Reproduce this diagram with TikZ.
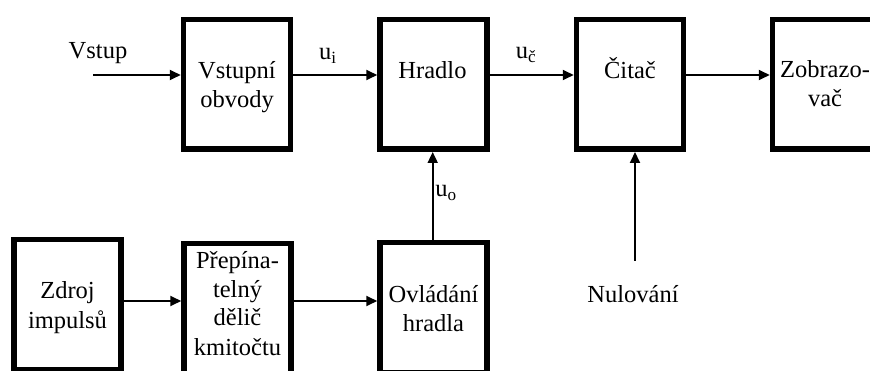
\documentclass[tikz,border=0pt]{standalone}
\usepackage{fontspec}
\setmainfont{Liberation Serif}
\usetikzlibrary{arrows.meta}
\begin{document}
\begin{tikzpicture}[x=1pt,y=-1pt,
  blk/.style={draw, line width=5.5pt, minimum width=107pt, minimum height=129.5pt, inner sep=0pt},
  txt/.style={font=\fontsize{24.5}{29}\selectfont, align=center, inner sep=0pt},
  arr/.style={line width=1.8pt, -{Triangle[length=11pt,width=10pt]}}]
\useasboundingbox[fill=white] (0,0) rectangle (870,371);
% blocks
\node[blk] (vo) at (237,84.5) {};
\node[blk] (hr) at (433.5,84.5) {};
\node[blk] (ci) at (630,84.5) {};
\node[blk] (zo) at (826,84.5) {};
\node[blk] (zd) at (67.5,304.5) {};
\node[blk] (pd) at (237.5,308.5) {};
\node[blk] (oh) at (433.5,307.5) {};
% block texts (base = baseline of last line)
\node[txt, anchor=base] (tvo) at (237,108) {Vstupní\\obvody};
\node[txt, anchor=base] (thr) at (432.5,79) {Hradlo};
\node[txt, anchor=base] (tci) at (630,79) {Čitač};
\node[txt, anchor=base] (tzo) at (825,107) {Zobrazo-\\vač};
\node[txt, anchor=base] (tzd) at (67.5,328) {Zdroj\\impulsů};
\node[txt, anchor=base] (tpd) at (237.5,355) {Přepína-\\telný\\dělič\\kmitočtu};
\node[txt, anchor=base] (toh) at (433.5,331) {Ovládání\\hradla};
% free ends
\coordinate (vin) at (93,75);
\coordinate (nul) at (635,261);
\coordinate (yb) at (0,301);
% labels
\node[txt] (lvs) at (98,53) {Vstup};
\node[txt] (lui) at (328,56) {u\textsubscript{i}};
\node[txt] (luc) at (526,55) {u\textsubscript{č}};
\node[txt] (luo) at (446,193) {u\textsubscript{o}};
\node[txt] (lnu) at (633,294) {Nulování};
% connectors
\draw[arr] (vin) -- (vin -| vo.west);
\draw[arr] (vo.east |- vin) -- (hr.west |- vin);
\draw[arr] (hr.east |- vin) -- (ci.west |- vin);
\draw[arr] (ci.east |- vin) -- (zo.west |- vin);
\draw[arr] (oh.north -| 432.7,0) -- (hr.south -| 432.7,0);
\draw[arr] (nul) -- (nul |- ci.south);
\draw[arr] (zd.east |- yb) -- (pd.west |- yb);
\draw[arr] (pd.east |- yb) -- (oh.west |- yb);
\end{tikzpicture}
\end{document}
